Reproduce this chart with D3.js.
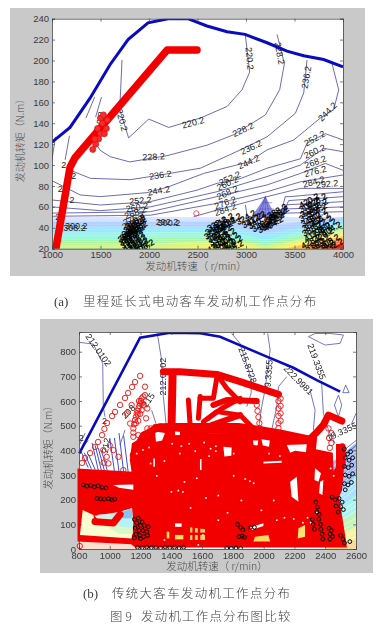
<!DOCTYPE html>
<html><head><meta charset="utf-8">
<script src="https://cdn.jsdelivr.net/npm/d3@7/dist/d3.min.js"></script>
<style>html,body{margin:0;padding:0;background:#fff}svg{display:block;filter:blur(.35px)}</style>
</head><body><svg id="c" width="392" height="628"></svg>
<script>
// ---------- panel (a) data ----------
const xTicksA=[1000,1500,2000,2500,3000,3500,4000];
const yTicksA=[20,40,60,80,100,120,140,160,180,200,220,240];
const limitA=[[1000,122],[1186,136],[1392,164],[1598,196],[1784,220],[1990,236],[2196,240],[2400,240],[2598,233],[2804,227.5],[2990,225],[3217,217],[3423,209],[3595,204.6],[3800,201],[4000,194]];
const workA=[[1040,20],[1186,98],[1237,107],[1495,135],[2186,210],[2495,210]];
const blobA=[[1500,130],[1480,125],[1540,130],[1450,120],[1420,115],[1560,135],[1520,140],[1500,145],[1470,135],[1440,125],[1530,148],[1570,143]];
const strayA=[[2488,53.8]];
const contoursA=[
[[2993,224.4],[3038,189],[2959,172],[2804,156],[2529,145],[2203,136],[1997,144],[1790,126],[1698,153],[1722,200.5]],
[[3320,225],[3396,197],[3347,172],[3200,148],[2873,129],[2598,119],[2186,109],[1801,103],[1601,108],[1498,114],[1430,124]],
[[3629,200.5],[3595,169],[3509,149.5],[3217,127],[2942,114.5],[2530,97],[2117,90.5],[1808,86],[1395,87.3],[1189,95]],
[[3887,197],[3956,172],[3904,153],[3767,145],[3492,124],[3217,114.5],[3028,103],[2564,92],[2186,78.7],[1980,73.6],[1498,69.8],[1292,71.4],[1000,85]],
[[4000,124],[3818,130],[3629,121],[3561,106],[3217,97],[2942,87],[2701,82.5],[2495,76],[2014,65],[1498,61.8],[1000,66.6]],
[[4000,112.8],[3801,116],[3561,100],[3217,89],[2701,74.5],[2014,60],[1498,56.4],[1000,60]],
[[4000,95],[3818,101.6],[3561,92],[3217,81],[2701,69.8],[2014,55.4],[1000,54]],
[[4000,90.5],[3561,84],[3217,74.5],[2701,63.4],[2014,52],[1000,51]],
[[4000,77.7],[3561,77.7],[3217,69.8],[2701,57],[2460,50.6]],
[[4000,74.5],[3457,69.8],[3405,69.8],[3350,50]],
[[4000,69.8],[3440,66],[3360,50]],[[4000,65],[3423,62],[3370,50]],[[4000,60],[3410,58],[3380,50]],[[4000,55.4],[3395,54],[3385,50]],
[[1440,165],[1350,145]],[[1510,165],[1450,146]],[[1000,105],[1035,127]],[[1180,128],[1135,105]],
[[2994,61.8],[3010,52],[3060,50]]
];
const peakA=[[3200,70],[3055,50],[3320,49]];
const peakHatchA=[[[3200,70],[3110,50]],[[3200,70],[3150,50]],[[3200,70],[3200,50]],[[3200,70],[3250,50]],[[3170,64],[3270,64]],[[3140,58],[3290,58]],[[3110,53],[3310,53]]];
const bandColorsA=["#cfdfff","#a8ccff","#8fe4ff","#90f5dc","#a6f5a6","#d8f588","#fbf070","#ffc455","#ff7a3a","#e82a1c"];
const bandXA=[1000,1500,2000,2500,2800,3000,3200,3400,3600,3800,4000];
const bandTopsA=[
[50,50,50,50,50,50,48,50,50,50,50],
[46,46,46,46,46,44,41,44,46,48,50],
[41,41,41,41,41,38,34,38,41,44,47],
[35,35,36,36,36,33,29,33,37,40,44],
[29,29,30,31,31,29,25,29,33,37,41],
[24,24,25,27,28,26,23,26,30,34,38],
[20,20,20,23,25,24,20,23,27,31,35],
[20,20,20,20,20,20,20,20,24,28,32],
[20,20,20,20,20,20,20,20,20,24,29],
[20,20,20,20,20,20,20,20,20,20,25]];
const stripeLevelsA=[49,47.5,46,44.5,43,41.5,40,38.5,37,35.5,34,32.5,31,29,27,25];
const labelsA=[
["220.2",2454,140.6,-15],["220.2",3038,202,85],["228.2",3347,207,80],["236.2",3622,184,-80],["244.2",3839,151,-45],
["228.2",2970,134,-25],["236.2",3052,117,-25],["252.2",3708,125.6,-30],["260.2",3708,113,-25],["268.2",3715,103,-20],
["276.2",3715,94,-15],["284.2",3698,84,-15],["292.2",3836,82,-5],["228.2",2048,108,-3],["236.2",2117,90.5,-8],
["244.2",2100,75.5,-10],["244.2",3028,103,-25],["252.2",2832,87.3,-25],["260.2",2808,82.5,-25],["268.2",2808,73.6,-25],
["276.2",2787,64,-20],["284.2",2787,57.6,-20],["252.2",1911,66,-5],["260.2",1876,59.6,-10],["268.2",1859,54.5,-20],
["276.2",1842,49,-25],["284.2",1830,45,-25],["292.2",2185,46,0],["300.2",2205,45,0],["300.2",1251,41.7,0],["308.2",1232,39.5,0],
["220.2",1722,143,75],["0.2",1500,145,-80],["2",1120,100,0],["2",1225,90,0],["2",1085,77,0],["2",1205,67,0],["2",1060,50,0]];
const clusterTextA=["300.2","308.2","316.2","324.2","332.2","340.2","348.2","356.2","364.2","372.2","380.2","388.2","396.2","404.2","412.2","420.2","428.2"];
const clusterPtsA=[
[1860,46],[1870,44],[1840,42],[1880,40],[1820,38],[1860,38],[1800,35],[1850,36],[1780,33],[1830,33],[1790,30],[1850,30],[1810,27],[1870,27],[1830,24],[1890,24],[1850,22],[1900,21],[1950,22],
[2770,47],[2850,47],[2700,44],[2790,43],[2680,40],[2760,40],[2670,36],[2750,36],[2700,33],[2790,33],[2720,30],[2820,29],[2750,27],[2860,26],[2700,23],[2780,23],[2870,21],[2800,20],
[3000,50],[3060,47],[3120,46],[3160,43],[3220,42],[3240,45],[3290,48],[3310,52],[3320,56],[3340,54],[3280,44],[3100,49],
[3650,66],[3730,66],[3650,62],[3740,61],[3660,57],[3730,57],[3650,53],[3730,52],[3670,48],[3760,48],[3680,44],[3790,45],[3830,42],[3680,39],[3770,38],[3880,39],[3700,34],[3800,33],[3670,27],[3760,27],[3860,27],[3720,23],[3810,22],[3900,23]];

// ---------- panel (b) data ----------
const xTicksB=[800,1000,1200,1400,1600,1800,2000,2200,2400,2600];
const yTicksB=[0,100,200,300,400,500,600,700,800];
const limitB=[[802,388],[1197,857],[1392,877],[1587,875],[1717,861],[2020,780],[2193,735],[2345,685],[2497,638]];
const contoursB=[
[[802,838],[893,831],[954,753],[958,577],[969,536]],
[[1309,874],[1337,766],[1348,618],[1370,482]],
[[1099,482],[1066,422]],[[1272,563],[1300,509],[1294,455]],
[[1792,874],[1846,834],[1922,685],[1918,631],[1890,577]],
[[2026,874],[2042,807],[2009,645],[1987,577],[1966,482]],
[[2150,699],[2096,658],[2085,577],[2052,482]],
[[2301,645],[2334,563],[2323,482]],
[[2291,861],[2399,827],[2497,834],[2518,868],[2431,874],[2334,874],[2291,861]],
[[2377,672],[2388,550],[2421,482],[2464,428]],
[[2533,665],[2514,634],[2555,634],[2533,665]],
[[2486,624],[2460,584],[2486,536],[2507,584],[2486,624]],
[[2600,550],[2572,509]],[[2600,440],[2520,400]],[[2600,420],[2530,380]],
[[805,425],[840,470]],[[805,400],[860,440]]];
const hatchB=[[[810,400],[860,330]],[[835,390],[880,325]],[[860,385],[905,322]],[[885,430],[925,320]],[[905,420],[945,320]],[[925,410],[965,318]],[[945,400],[985,316]],[[1000,450],[1030,316]],[[1030,450],[1060,314]],[[1060,470],[1090,312]],[[1090,460],[1120,310]]];
const bandColorsB=["#9db8f5","#a8e4ff","#a8f5ee","#c4f5b8","#f5f5a0","#ffd8a0"];
const bandEdgesB=[[330,430],[180,300],[120,220],[70,150],[30,90],[0,40]];
const bandXB=[2400,2600];
const stripesB=[[310,410],[290,395],[270,380],[250,365],[230,345],[210,330],[195,315],[165,285],[150,270],[135,250],[105,195],[90,175],[75,155],[55,125],[40,105],[20,70],[10,50]];
const floorB=[[800,0],[1180,0],[1180,25],[800,38]];
const massB=[[800,36],[800,320],[1153,307],[1140,360],[1153,425],[1220,450],[1290,500],[1380,505],[1840,505],[1950,495],[2100,480],[2290,455],[2330,400],[2440,385],[2445,300],[2480,330],[2480,420],[2512,420],[2512,330],[2500,240],[2480,212],[2497,145],[2518,63],[2530,12],[1170,12],[1142,25]];
const traceB=[
[7,[[1348,719],[1457,719],[1695,708],[1847,679],[2096,627]]],
[8,[[1408,712],[1402,516]]],
[5,[[1511,604],[1522,503]]],
[5,[[1587,618],[1576,530]]],
[5,[[1587,611],[1673,611],[1695,692]]],
[5,[[1706,699],[1760,652],[1847,597]]],
[5,[[1641,530],[1727,570],[1847,611]]],
[6,[[1673,584],[1760,604],[1955,600]]],
[5,[[1608,516],[1695,557],[1847,543],[1933,489]]],
[6,[[1662,503],[1847,543]]],
[7,[[1153,381],[1218,462],[1327,496],[1587,483],[1847,483],[2085,469],[2291,440],[2340,470],[2388,503],[2421,543],[2508,519]]],
[7,[[2324,449],[2313,381],[2367,368]]],
[7,[[2510,415],[2510,340]]],
[7,[[904,111],[1023,105],[1067,140]]],
[2.5,[[1545,90],[1545,36]]],[2.5,[[1580,90],[1580,36]]],[2.5,[[1522,62],[1619,62]]]];
const circlesB=[[1197,702],[1164,677],[1145,657],[1119,633],[1099,612],[1067,584],[1034,556],[1015,539],[982,511],[965,487],[950,462],[924,434],[904,414],[872,389],[839,369],[820,349],
[1229,624],[1218,618],[1207,611],[1202,600],[1197,590],[1192,580],[1186,570],[1180,560],[1175,550],[1170,536],[1164,523],[1158,506],[1153,489],[1153,472],[1153,455],[1186,462],[1229,658],[1244,570],[1236,530],[1244,489],[1266,489],[1251,469],[1207,563],[1218,584],[1190,600],[1210,590],[1182,545],[1198,548],[1170,510],[1185,520],[1142,584],[1110,550],[1132,509],
[958,401],[980,374],[991,347],[1023,401],[1056,374],[1088,320],[960,350],[1000,420],
[1955,584],[1960,560],[1966,535],[1972,510],[1977,489],[2096,627],[2096,600],[2096,570],[2096,540],[2096,510],[2096,490],[2110,610],[2110,580],[2110,550],[2110,520],
[2421,489],[2425,450],[2430,410],[2440,470],[2440,430],[805,12]];
const patchColorsB=["#fafbd0","#d8f8cc","#b6f2f2","#8cc0f2","#d4ecff","#ffffff","#ffffff","#ffffff","#ffffff","#ffffff","#ffffff","#ffffff","#ffffff","#ffffff","#ffe070","#ffffff","#ffd860","#ffffff","#ffe060","#ffe060","#ffd060","#ffffff","#ffffff","#ffffff","#ffffff","#ffffff"];
const patchesB=[
[[824,158],[893,138],[904,111],[1023,111],[1067,151],[1142,165],[1153,104],[1142,43],[806,57]],
[[900,135],[1060,150],[1145,165],[1150,60],[1060,62],[950,100]],
[[1000,140],[1065,150],[1145,163],[1150,85],[1070,90],[1020,112]],
[[1070,148],[1142,164],[1148,125],[1085,125]],
[[925,140],[1000,140],[1005,125],[930,125]],
[[1738,415],[1792,412],[1790,378],[1745,375]],
[[1930,440],[1965,440],[1960,420],[1935,422]],
[[2172,273],[2215,293],[2226,192],[2182,212]],
[[2150,422],[2280,425],[2275,392],[2204,398],[2172,390]],
[[2334,327],[2373,307],[2356,273],[2330,280]],
[[2367,273],[2388,280],[2382,219],[2360,226]],
[[1985,445],[2040,440],[2035,415],[1995,420]],
[[1023,260],[1153,262],[1153,240],[1060,248]],
[[1424,104],[1467,104],[1467,90],[1424,90]],
[[2226,84],[2269,97],[2269,50],[2221,43]],
[[1911,88],[1998,104],[1998,93],[1922,77]],
[[1944,50],[2031,57],[2042,30],[1933,30]],
[[1998,354],[2117,358],[2117,350],[1998,347]],
[[1424,57],[1478,57],[1478,39],[1424,39]],
[[1370,70],[1387,70],[1387,43],[1370,43]],
[[1522,88],[1619,80],[1619,36],[1522,36]],
[[1294,476],[1359,470],[1340,440],[1300,435]],
[[1424,482],[1456,482],[1456,462],[1424,462]],
[[1630,482],[1727,482],[1727,470],[1630,470]],
[[1586,365],[1596,365],[1596,320],[1586,320]],
[[1283,367],[1293,367],[1293,334],[1283,334]]];
const specksB=[[1440,240],[1470,235],[1395,235],[1480,275],[1875,287],[1905,278],[1930,270],[1560,290],[1640,380],[1520,170],[1620,210],[1760,150],[1700,220],[1800,300],[1850,200],[1980,160],[2080,120],[2130,130],[2190,125],[2060,200],[2300,110],[2280,130],[2340,150],[2250,110],[1300,300],[1260,350],[1350,360],[1450,390],[1550,400],[1650,410],[1800,390],[2030,390],[2100,380],[2430,330],[2450,300],[1700,120],[1600,60],[1350,40],[1570,20],[1511,430],[1608,435],[1684,420],[1684,400],[1400,430],[1460,420],[1250,415],[1210,405],[1170,390]];
const blackB=[
[2524,405],[2545,385],[2565,395],[2530,370],[2555,360],[2578,370],[2525,335],[2550,330],[2572,340],[2530,300],[2555,295],[2578,305],[2525,265],[2548,260],[2570,270],[2530,240],
[2445,210],[2465,200],[2490,205],[2510,190],[2470,175],[2500,172],[2518,160],[2485,150],
[2338,190],[2350,170],[2345,150],[2362,140],[2358,120],[2370,100],[2372,80],[2380,60],[2384,40],
[2316,120],[2322,100],[2330,80],
[2425,84],[2440,75],[2432,60],[2448,50],[2430,40],
[2500,55],[2515,40],[2525,25],
[1160,120],[1185,125],[1210,110],[1175,105],[1200,95],[1225,95],[1250,90],[1165,85],[1190,75],[1215,75],[1240,70],[1170,60],[1195,55],[1220,50],[1245,55],[1200,42],[1160,45],
[828,260],[850,255],[875,258],[900,252],[925,256],[950,250],[975,248],[918,205],[940,203],[965,202],[990,204],[1015,200],[1032,202],
[1180,7],[1210,6],[1240,8],[1270,6],[1300,7],[1330,5],[1360,8],[1390,6],[1420,7],[1450,5],[1480,7],
[1760,4],[1790,3],[1820,4],[1850,3],[1840,50],[1860,52],[1876,48],[1830,100],[1850,88],[1865,78],[1915,88],[1940,88],[2560,30]];
const labelsB=[
["212.0102",926,807,55],["212.0102",1348,699,-90],["215.8728",1896,746,70],["9.3355",2031,712,-85],["222.9981",2226,685,45],
["219.3355",2345,760,70],["19.3355",2507,476,-25],["208",1121,557,-45],["215",1251,604,-55],["2",965,520,0],["2",815,450,0],["212",975,420,-80]];

// ---------- shared text ----------
const captionA="里程延长式电动客车发动机工作点分布";
const captionB="传统大客车发动机工作点分布";
const figTitle="发动机工作点分布图比较";
const xName="发动机转速（ r/min）";
const yName="发动机转矩（N.m）";

// ---------- drawing ----------
const svg=d3.select("#c");
const SANS="'Liberation Sans',Arial,sans-serif", CJK="'Noto Sans CJK SC',sans-serif", SERIF="'Liberation Serif',serif";
const NAVY="#3b3b9c", BLUE="#0a0ac0", RED="#f20000";
svg.append("defs").selectAll("clipPath").data([["ca",52,18.7,291,230],["cb",76,332,280,217]]).join("clipPath").attr("id",d=>d[0])
  .append("rect").attr("x",d=>d[1]).attr("y",d=>d[2]).attr("width",d=>d[3]).attr("height",d=>d[4]);

function frame(cfg){
  svg.append("rect").attr("x",cfg.gray[0]).attr("y",cfg.gray[1]).attr("width",cfg.gray[2]).attr("height",cfg.gray[3]).attr("fill","#c9c9c9");
  svg.append("rect").attr("x",cfg.x.range()[0]).attr("y",cfg.y.range()[1]).attr("width",cfg.x.range()[1]-cfg.x.range()[0]).attr("height",cfg.y.range()[0]-cfg.y.range()[1]).attr("fill","#fff");
}
function axes(cfg){
  const [x0,x1]=cfg.x.range(),[y0,y1]=cfg.y.range();
  const style=g=>{g.select(".domain").attr("stroke","#444").attr("stroke-width",.8);g.selectAll("line").attr("stroke","#444").attr("stroke-width",.7);g.selectAll("text").attr("fill","#3a3a3a").style("font",`${cfg.fs}px ${SANS}`)};
  svg.append("g").attr("transform",`translate(0,${y0})`).call(d3.axisBottom(cfg.x).tickValues(cfg.xt).tickSize(-3).tickPadding(3).tickFormat(d3.format("d"))).call(style);
  svg.append("g").attr("transform",`translate(${x0},0)`).call(d3.axisLeft(cfg.y).tickValues(cfg.yt).tickSize(-3).tickPadding(3).tickFormat(d3.format("d"))).call(style);
  svg.append("g").attr("transform",`translate(0,${y1})`).call(d3.axisTop(cfg.x).tickValues(cfg.xt).tickSize(-3).tickFormat("")).call(style);
  svg.append("g").attr("transform",`translate(${x1},0)`).call(d3.axisRight(cfg.y).tickValues(cfg.yt).tickSize(-3).tickFormat("")).call(style);
  svg.append("text").text(xName).attr("x",cfg.xl[0]).attr("y",cfg.xl[1]).attr("text-anchor","middle").attr("fill","#4a4a4a").style("font",`300 10.5px ${CJK}`);
  svg.append("text").text(yName).attr("transform",`translate(${cfg.yl[0]},${cfg.yl[1]}) rotate(-90)`).attr("text-anchor","middle").attr("fill","#4a4a4a").style("font",`300 10px ${CJK}`);
}
function labels(g,cfg,rows,fs,col){
  g.selectAll(null).data(rows).join("text").text(d=>d[0])
   .attr("transform",d=>`translate(${cfg.x(d[1])},${cfg.y(d[2])}) rotate(${d[3]})`)
   .attr("text-anchor","middle").attr("dy","0.35em").attr("fill",col).style("font",`${fs}px ${SANS}`);
}

// Panel a
const A={gray:[10,8,355,268],x:d3.scaleLinear([1000,4000],[52,343]),y:d3.scaleLinear([20,240],[248.7,18.7]),xt:xTicksA,yt:yTicksA,fs:9.5,xl:[196,270],yl:[24,138]};
frame(A);
const ga=svg.append("g").attr("clip-path","url(#ca)");
const lineA=d3.line().x(d=>A.x(d[0])).y(d=>A.y(d[1]));
const areaA=d3.area().x((d,i)=>A.x(bandXA[i])).y1(d=>A.y(d)).y0(A.y(20));
ga.selectAll(null).data(bandTopsA).join("path").attr("d",d=>areaA(d)).attr("fill",(d,i)=>bandColorsA[i]);
ga.selectAll(null).data(stripeLevelsA).join("line").attr("x1",A.x(1000)).attr("x2",A.x(4000)).attr("y1",d=>A.y(d)).attr("y2",d=>A.y(d)).attr("stroke","#fff").attr("stroke-opacity",.45).attr("stroke-width",.6);
ga.append("path").attr("d",lineA(peakA)+"Z").attr("fill","#8c8ce0");
ga.selectAll(null).data(peakHatchA).join("path").attr("d",lineA).attr("fill","none").attr("stroke","#4a4ab8").attr("stroke-width",.5);
ga.selectAll(null).data(contoursA).join("path").attr("d",lineA).attr("fill","none").attr("stroke",NAVY).attr("stroke-width",.75);
labels(ga,A,labelsA,9,"#222");
ga.selectAll(null).data(clusterPtsA).join("text").text((d,i)=>clusterTextA[i%clusterTextA.length])
  .attr("transform",d=>`translate(${A.x(d[0])},${A.y(d[1])}) rotate(-30)`).attr("text-anchor","middle").attr("dy","0.35em").attr("fill","#000").attr("stroke","#000").attr("stroke-width",.25).style("font",`8.5px ${SANS}`);
ga.append("path").attr("d",lineA(limitA)).attr("fill","none").attr("stroke",BLUE).attr("stroke-width",3);
ga.append("path").attr("d",lineA(workA)).attr("fill","none").attr("stroke",RED).attr("stroke-width",7.5).attr("stroke-linecap","round").attr("stroke-linejoin","round");
ga.selectAll(null).data(blobA).join("circle").attr("cx",d=>A.x(d[0])).attr("cy",d=>A.y(d[1])).attr("r",3).attr("fill","#f03030").attr("stroke",RED).attr("stroke-width",.7);
ga.selectAll(null).data(strayA).join("circle").attr("cx",d=>A.x(d[0])).attr("cy",d=>A.y(d[1])).attr("r",2.6).attr("fill","none").attr("stroke","#e83040").attr("stroke-width",.8);
axes(A);

// Panel b
const B={gray:[40,319,333,254],x:d3.scaleLinear([800,2600],[79,356]),y:d3.scaleLinear([0,880],[549,332]),xt:xTicksB,yt:yTicksB,fs:9.5,xl:[217,570],yl:[52,445]};
frame(B);
const gb=svg.append("g").attr("clip-path","url(#cb)");
const lineB=d3.line().x(d=>B.x(d[0])).y(d=>B.y(d[1]));
gb.selectAll(null).data(bandEdgesB).join("path")
  .attr("d",d=>d3.area().x((v,i)=>B.x(bandXB[i])).y1(v=>B.y(v)).y0(B.y(0))(d)).attr("fill",(d,i)=>bandColorsB[i]);
gb.selectAll(null).data(stripesB).join("line").attr("x1",B.x(2400)).attr("x2",B.x(2600)).attr("y1",d=>B.y(d[0])).attr("y2",d=>B.y(d[1])).attr("stroke","#fff").attr("stroke-width",.7).attr("stroke-opacity",.75);
gb.append("path").attr("d",lineB(floorB)+"Z").attr("fill","#ffe0d0");
gb.selectAll(null).data(hatchB).join("path").attr("d",lineB).attr("fill","none").attr("stroke","#2a3ad0").attr("stroke-width",.9);
gb.selectAll(null).data(contoursB).join("path").attr("d",lineB).attr("fill","none").attr("stroke","#4a4ab0").attr("stroke-width",.75);
labels(gb,B,labelsB,9,"#222");
gb.append("path").attr("d",lineB(massB)+"Z").attr("fill",RED).attr("stroke",RED).attr("stroke-width",3);
gb.selectAll(null).data(patchesB).join("path").attr("d",d=>lineB(d)+"Z").attr("fill",(d,i)=>patchColorsB[i]);
gb.selectAll(null).data(traceB).join("path").attr("d",d=>lineB(d[1])).attr("fill","none").attr("stroke",RED).attr("stroke-width",d=>d[0]).attr("stroke-linejoin","round").attr("stroke-linecap","round");
gb.selectAll(null).data(circlesB).join("circle").attr("cx",d=>B.x(d[0])).attr("cy",d=>B.y(d[1])).attr("r",2.7).attr("fill","none").attr("stroke","#ee1010").attr("stroke-width",.9);
gb.selectAll(null).data(specksB).join("rect").attr("x",d=>B.x(d[0])).attr("y",d=>B.y(d[1])).attr("width",1.6).attr("height",1.6).attr("fill","#fff");
gb.selectAll(null).data(blackB).join("circle").attr("cx",d=>B.x(d[0])).attr("cy",d=>B.y(d[1])).attr("r",1.9).attr("fill","none").attr("stroke","#000").attr("stroke-width",1);
gb.append("path").attr("d",lineB(limitB)).attr("fill","none").attr("stroke",BLUE).attr("stroke-width",2.6);
axes(B);

// Captions
function caption(tag,tx,ty,text,sx){
  svg.append("text").text(tag).attr("x",tx).attr("y",ty).attr("fill","#3c3c3c").style("font",`13px ${SERIF}`);
  svg.append("text").text(text).attr("x",sx).attr("y",ty).attr("fill","#3c3c3c").attr("letter-spacing",1.4).style("font",`300 12.4px ${CJK}`);
}
caption("(a)",54,306,captionA,83);
caption("(b)",83,598,captionB,112);
svg.append("text").text("图 9").attr("x",110).attr("y",621).attr("fill","#3c3c3c").style("font",`300 12.4px ${CJK}`);
svg.append("text").text(figTitle).attr("x",141).attr("y",621).attr("fill","#3c3c3c").attr("letter-spacing",1.3).style("font",`300 12.4px ${CJK}`);
</script></body></html>
